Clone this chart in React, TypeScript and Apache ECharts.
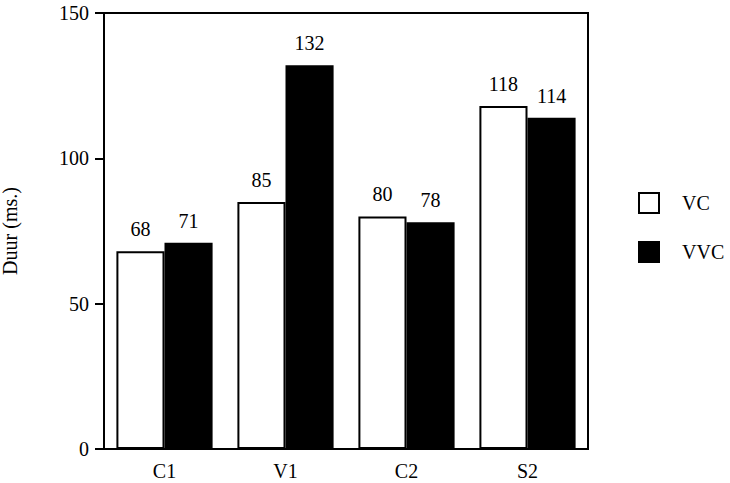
import React, { useEffect, useRef } from "react";
import * as echarts from "echarts";

const categories = ["C1", "V1", "C2", "S2"];
const seriesNames = ["VC", "VVC"];
const vcValues = [68, 85, 80, 118];
const vvcValues = [71, 132, 78, 114];
const yTicks = { min: 0, max: 150, interval: 50 };

const FONT = "'Liberation Serif', 'Times New Roman', serif";

export default function App() {
  const ref = useRef<HTMLDivElement>(null);
  useEffect(() => {
    if (!ref.current) return;
    const chart = echarts.init(ref.current, undefined, { renderer: "svg" });
    const label = {
      show: true,
      position: "top" as const,
      distance: 12,
      color: "#000",
      fontFamily: FONT,
      fontSize: 20,
    };
    chart.setOption({
      animation: false,
      backgroundColor: "#fff",
      grid: {
        left: 104,
        right: 142,
        top: 13,
        bottom: 34,
        containLabel: false,
        outerBoundsMode: "none",
        show: true,
        borderColor: "#000",
        borderWidth: 2,
        backgroundColor: "transparent",
      },
      legend: {
        orient: "vertical",
        left: 638,
        top: 192,
        padding: 0,
        itemWidth: 20,
        itemHeight: 20,
        itemGap: 27,
        icon: "rect",
        textStyle: { fontFamily: FONT, fontSize: 20, color: "#000", padding: [0, 0, 0, 18] },
        data: seriesNames,
      },
      xAxis: {
        type: "category",
        data: categories,
        axisLine: { lineStyle: { color: "#000", width: 2 } },
        axisTick: { alignWithLabel: true, length: 8, lineStyle: { color: "#000", width: 2 } },
        axisLabel: { fontFamily: FONT, fontSize: 20, color: "#000", margin: 12 },
      },
      yAxis: {
        type: "value",
        min: yTicks.min,
        max: yTicks.max,
        interval: yTicks.interval,
        name: "Duur (ms.)",
        nameLocation: "middle",
        nameGap: 84,
        nameTextStyle: { fontFamily: FONT, fontSize: 20, color: "#000" },
        axisLine: { show: true, lineStyle: { color: "#000", width: 2 } },
        axisTick: { show: true, length: 9, lineStyle: { color: "#000", width: 2 } },
        axisLabel: { fontFamily: FONT, fontSize: 20, color: "#000", margin: 15 },
        splitLine: { show: false },
      },
      series: [
        {
          name: seriesNames[0],
          type: "bar",
          data: vcValues,
          barGap: "0%",
          barCategoryGap: "20.5%",
          itemStyle: { color: "#fff", borderColor: "#000", borderWidth: 2 },
          label,
        },
        {
          name: seriesNames[1],
          type: "bar",
          data: vvcValues,
          barGap: "0%",
          barCategoryGap: "20.5%",
          itemStyle: { color: "#000", borderColor: "#000", borderWidth: 2 },
          label,
        },
      ],
    });
    return () => chart.dispose();
  }, []);
  return <div ref={ref} style={{ width: 730, height: 483, position: "absolute", left: 0, top: 0 }} />;
}
